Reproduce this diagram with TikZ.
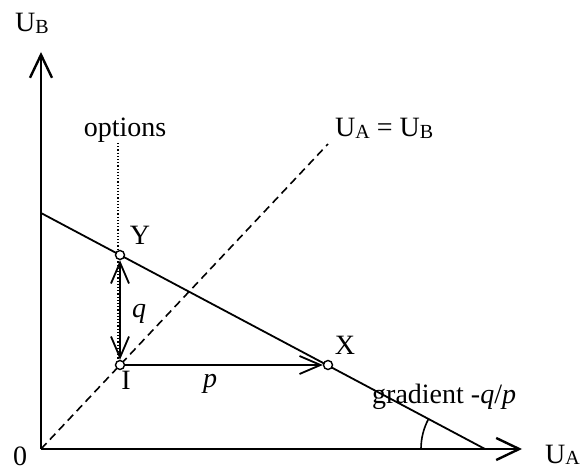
\documentclass[tikz,border=0pt]{standalone}
\usepackage{fontspec}
\setmainfont{Liberation Serif}
\usetikzlibrary{arrows.meta}
\newcommand\subx[1]{\raisebox{-1.5pt}{\fontsize{20}{20}\selectfont #1}}
\tikzset{barb/.tip={Straight Barb[length=21pt,width=18pt,line width=1.8pt]}}
\begin{document}
\begin{tikzpicture}[x=1pt,y=-1pt,
  lbl/.style={inner sep=0pt,font=\fontsize{28}{32}\selectfont},
  pt/.style={circle,draw,fill=white,line width=1.4pt,minimum size=9pt,inner sep=0pt},
  axis/.style={line width=2.6pt,-{Straight Barb[length=23pt,width=22pt,line width=2.4pt]}},
  arr/.style={line width=1.8pt}]
\useasboundingbox (0,0) rectangle (584,470);
\coordinate (O) at (41,449);
\coordinate (YT) at (41,52);
\coordinate (XT) at (522,449);
\coordinate (B0) at (41,213);
\coordinate (B1) at (485,449);
\coordinate (DE) at (328,144);
\coordinate (DT) at (118,143);
\coordinate (DB) at (118,360);
% axes
\draw[axis] (O) -- (YT);
\draw[axis] (O) -- (XT);
% diagonal
\draw[line width=1.6pt,dash pattern=on 8pt off 5pt] (O) -- (DE);
% dotted
\draw[line width=1.2pt,dotted] (DT) -- (DB);
% budget line
\draw[line width=1.8pt] (B0) -- (B1);
% angle arc
\draw[line width=1.6pt] (B1) ++(180:64) arc[start angle=180,end angle=208,radius=64];
% points
\node[pt] (Y) at (120,255) {};
\node[pt] (I) at (120,365) {};
\node[pt] (X) at (328,365) {};
\draw[arr,barb-barb] (Y) -- (I);
\draw[arr,-barb] (I) -- (X);
% labels
\node[lbl,anchor=base west] (lUB) at (15,32) {U\subx{B}};
\node[lbl,anchor=base] (lopt) at (125,137) {options};
\node[lbl,anchor=base west] (lUAB) at (335,137) {U\subx{A} = U\subx{B}};
\node[lbl,anchor=base] (lY) at (140,245) {Y};
\node[lbl,anchor=base] (lq) at (139,318) {\itshape q};
\node[lbl,anchor=base] (lI) at (126,390) {I};
\node[lbl,anchor=base] (lp) at (210,388) {\itshape p};
\node[lbl,anchor=base] (lX) at (345,355) {X};
\node[lbl,anchor=base west] (lg) at (372,403) {gradient -\textit{q}/\textit{p}};
\node[lbl,anchor=base west] (lUA) at (545,463) {U\subx{A}};
\node[lbl,anchor=base] (l0) at (20,465) {0};
\end{tikzpicture}
\end{document}
